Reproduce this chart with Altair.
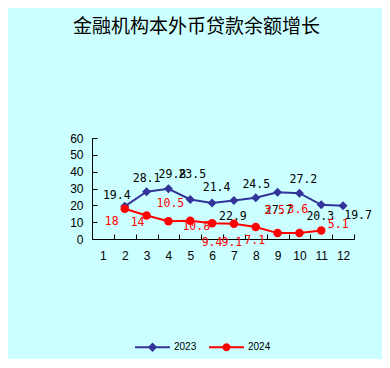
import math
import altair as alt
import pandas as pd

# ---- data ----
months = list(range(1, 13))
v2023 = [None, 19.4, 28.1, 29.8, 23.5, 21.4, 22.9, 24.5, 27.7, 27.2, 20.3, 19.7]
v2024 = [None, 18, 14, 10.5, 10.8, 9.4, 9.1, 7.1, 3.5, 3.6, 5.1, None]
series_names = ["2023", "2024"]
title_text = "金融机构本外币贷款余额增长"

# label offsets in pixels (layout only): right / down from the point
dx2023 = [0, -8, 0, 4, 2, 4.5, -1, 0.5, 1, 4, -1, 15]
dy2023 = [0, -10, -13, -14, -24.5, -15, 16.5, -13, 19, -13, 12.5, 10]
dx2024 = [0, -13, -9, 2, 6, 0, -2, -1, -3, -1.5, 17, 0]
dy2024 = [0, 13, 8, -17, 6, 20, 19.5, 14, -22, -23, -5, 0]

W, H = 262, 101
PXX = W / 12.0
PXY = H / 60.0

rows = []
for s, vals, dxs, dys in [("2023", v2023, dx2023, dy2023), ("2024", v2024, dx2024, dy2024)]:
    for m, v, ddx, ddy in zip(months, vals, dxs, dys):
        if v is None:
            continue
        rows.append({"month": m, "value": v, "series": s,
                     "label": ("%g" % v), "dx": ddx, "dy": ddy})
df = pd.DataFrame(rows)

BLUE = "#333399"
RED = "#FF0000"

xscale = alt.Scale(domain=[0.5, 12.5], nice=False, zero=False)
yscale = alt.Scale(domain=[0, 60], nice=False)

xaxis = alt.Axis(values=months, title=None, grid=False, ticks=False, tickSize=0,
                 labelFont="Liberation Sans", labelFontSize=12, labelColor="black",
                 labelPadding=11, domainColor="black", domainWidth=1, labelFlush=False)
yaxis = alt.Axis(values=[0, 10, 20, 30, 40, 50, 60], title=None, grid=False, ticks=False,
                 tickSize=0, labelFont="Liberation Sans", labelFontSize=12,
                 labelColor="black", labelPadding=9, domainColor="black", domainWidth=1)

X = alt.X("month:Q", scale=xscale, axis=xaxis)
Y = alt.Y("value:Q", scale=yscale, axis=yaxis)


def series_layers(name, color, shape, size, text_color):
    base = alt.Chart(df).transform_filter(alt.datum.series == name)
    line = base.mark_line(color=color, strokeWidth=2).encode(x=X, y=Y)
    pts = base.mark_point(shape=shape, filled=True, color=color, size=size,
                          opacity=1, strokeWidth=0).encode(x=X, y=Y)
    txt = base.transform_calculate(
        lx=f"datum.month + datum.dx / {PXX}",
        ly=f"datum.value - datum.dy / {PXY}",
    ).mark_text(font="DejaVu Sans Mono", fontSize=11.5, color=text_color,
                align="center", baseline="middle").encode(
        x=alt.X("lx:Q", scale=xscale, axis=xaxis),
        y=alt.Y("ly:Q", scale=yscale, axis=yaxis),
        text="label:N",
    )
    return [line, pts, txt]


# legend symbols: line with marker (custom paths in [-1,1] units)
def poly(r, n):
    pts = [(r * math.sin(2 * math.pi * k / n), -r * math.cos(2 * math.pi * k / n)) for k in range(n)]
    return "M" + "L".join(f"{x:.3f},{y:.3f}" for x, y in pts) + "Z"

seg = "M-1,-0.06H-0.1V0.06H-1ZM0.1,-0.06H1V0.06H0.1Z"
diamond_path = seg + "M0,-0.27L0.27,0L0,0.27L-0.27,0Z"
circle_path = seg + poly(0.23, 20)

legend_layer = alt.Chart(df).transform_filter("datum.value < -1000").mark_point(
    filled=True, opacity=1, strokeWidth=0
).encode(
    x=X, y=Y,
    color=alt.Color("series:N", scale=alt.Scale(domain=series_names, range=[BLUE, RED]),
                    legend=alt.Legend(title=None, orient="none", direction="horizontal",
                                      legendX=42, legendY=190.5, symbolSize=1225,
                                      labelFont="Liberation Sans", labelFontSize=10,
                                      labelColor="black", labelOffset=3,
                                      columnPadding=11, padding=0)),
    shape=alt.Shape("series:N", scale=alt.Scale(domain=series_names,
                                                range=[diamond_path, circle_path]),
                    legend=alt.Legend(title=None, orient="none", direction="horizontal",
                                      legendX=42, legendY=190.5, symbolSize=1225,
                                      labelFont="Liberation Sans", labelFontSize=10,
                                      labelColor="black", labelOffset=3,
                                      columnPadding=11, padding=0)),
)

main = alt.layer(*series_layers("2023", BLUE, "diamond", 81, "black"),
                 *series_layers("2024", RED, "circle", 72, RED),
                 legend_layer)

# inward ticks drawn by a second, label-less axis pair
tick_x_axis = alt.Axis(values=[m - 0.5 for m in months] + [12.5], orient="bottom",
                       domain=False, labels=False, ticks=True, tickSize=5, offset=-5,
                       tickColor="black", grid=False, title=None)
tick_y_axis = alt.Axis(values=[0, 10, 20, 30, 40, 50, 60], orient="left",
                       domain=False, labels=False, ticks=True, tickSize=5, offset=-5,
                       tickColor="black", grid=False, title=None)
ticks_layer = alt.Chart(df).mark_point(opacity=0).encode(
    x=alt.X("month:Q", scale=xscale, axis=tick_x_axis),
    y=alt.Y("value:Q", scale=yscale, axis=tick_y_axis),
)

chart = alt.layer(main, ticks_layer).resolve_axis(
    x="independent", y="independent"
).properties(
    width=W, height=H,
    autosize="none",
    padding={"left": 84, "top": 130, "right": 28, "bottom": 120},
    title=alt.TitleParams(title_text, font="Noto Sans CJK SC", fontSize=19,
                          fontWeight="normal", color="black", anchor="middle",
                          frame="group", dx=-26.5, offset=95),
).configure(background="#CCFFFF").configure_view(stroke=None)

chart.save("out.html", embed_options={"renderer": "svg", "actions": False})
